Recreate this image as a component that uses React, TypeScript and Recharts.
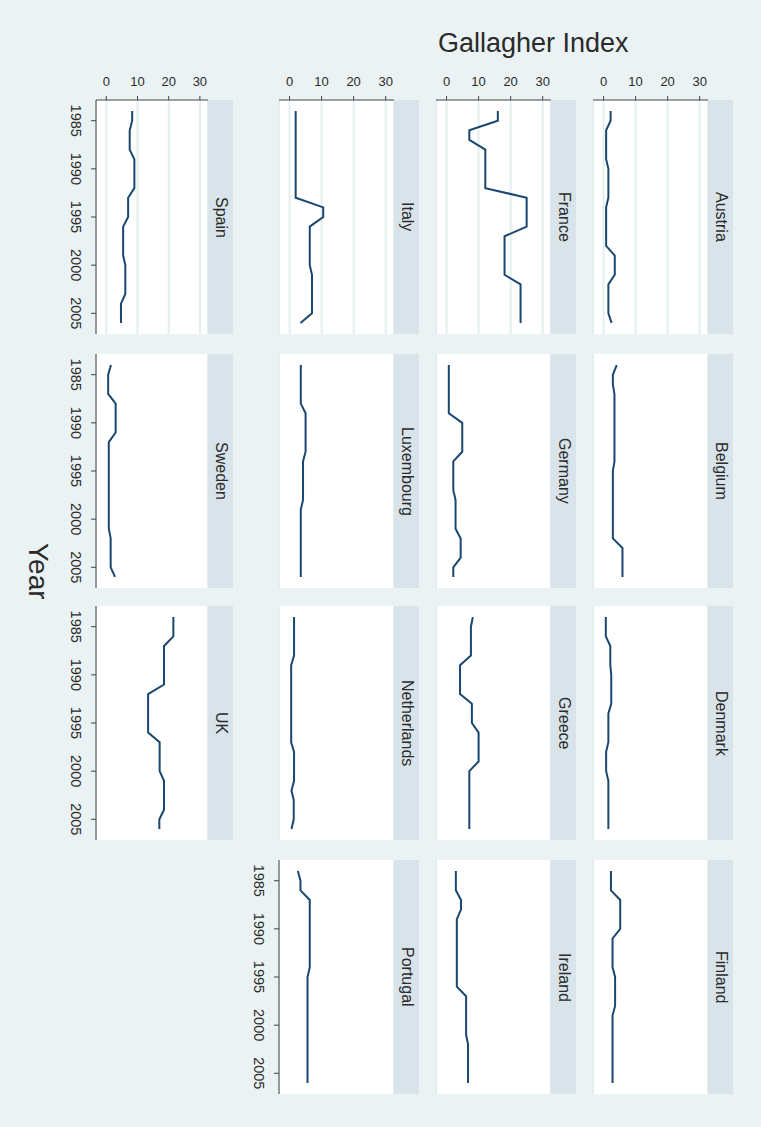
import React from 'react'
import { LineChart, Line, XAxis, YAxis, CartesianGrid } from 'recharts'

// years on the (rotated) vertical axis
const years = [1984, 1985, 1986, 1987, 1988, 1989, 1990, 1991, 1992, 1993, 1994, 1995, 1996, 1997, 1998, 1999, 2000, 2001, 2002, 2003, 2004, 2005, 2006]
const yearTicks = [1985, 1990, 1995, 2000, 2005]
const valueTicks = [0, 10, 20, 30]

// Gallagher index per country, 1984..2006
const austria = [2.2, 2.2, 0.8, 0.8, 0.8, 0.8, 1.5, 1.5, 1.5, 1.5, 0.8, 0.8, 0.8, 0.8, 0.8, 3.5, 3.5, 3.5, 1.5, 1.5, 1.5, 1.5, 2.5]
const belgium = [4.1, 2.9, 2.9, 3.4, 3.4, 3.4, 3.4, 3.4, 3.4, 3.4, 3.4, 2.9, 2.9, 2.9, 2.9, 2.9, 2.9, 2.9, 2.9, 5.9, 5.9, 5.9, 5.9]
const denmark = [0.7, 0.7, 0.7, 2.1, 2.1, 2.1, 2.4, 2.4, 2.4, 2.4, 1.5, 1.5, 1.5, 1.5, 0.8, 0.8, 0.8, 1.5, 1.5, 1.5, 1.5, 1.5, 1.5]
const finland = [2.3, 2.3, 2.3, 5.2, 5.2, 5.2, 5.2, 2.8, 2.8, 2.8, 2.8, 3.6, 3.6, 3.6, 3.6, 2.8, 2.8, 2.8, 2.8, 2.8, 2.8, 2.8, 2.8]
const france = [16, 16, 7.1, 7.1, 12.1, 12.1, 12.1, 12.1, 12.1, 25, 25, 25, 25, 18.1, 18.1, 18.1, 18.1, 18.1, 23.1, 23.1, 23.1, 23.1, 23.1]
const germany = [0.7, 0.7, 0.7, 0.7, 0.7, 0.7, 4.9, 4.9, 4.9, 4.9, 2.1, 2.1, 2.1, 2.1, 2.8, 2.8, 2.8, 2.8, 4.4, 4.4, 4.4, 2.1, 2.1]
const greece = [8.2, 7.6, 7.6, 7.6, 7.6, 4.2, 4.2, 4.2, 4.2, 7.9, 7.9, 7.9, 10, 10, 10, 10, 7.1, 7.1, 7.1, 7.1, 7.1, 7.1, 7.1]
const ireland = [2.9, 2.9, 2.9, 4.5, 4.5, 3.2, 3.2, 3.2, 3.2, 3.2, 3.2, 3.2, 3.2, 6.1, 6.1, 6.1, 6.1, 6.1, 6.7, 6.7, 6.7, 6.7, 6.7]
const italy = [1.9, 1.9, 1.9, 1.9, 1.9, 1.9, 1.9, 1.9, 1.9, 1.9, 10.5, 10.5, 6.3, 6.3, 6.3, 6.3, 6.3, 7.0, 7.0, 7.0, 7.0, 7.0, 3.4]
const luxembourg = [3.5, 3.5, 3.5, 3.5, 3.5, 5.0, 5.0, 5.0, 5.0, 5.0, 4.2, 4.2, 4.2, 4.2, 4.2, 3.5, 3.5, 3.5, 3.5, 3.5, 3.5, 3.5, 3.5]
const netherlands = [1.4, 1.4, 1.4, 1.4, 1.4, 0.5, 0.5, 0.5, 0.5, 0.5, 0.5, 0.5, 0.5, 0.5, 1.4, 1.4, 1.4, 1.4, 0.6, 1.3, 1.3, 1.3, 0.6]
const portugal = [2.6, 3.4, 3.4, 6.3, 6.3, 6.3, 6.3, 6.3, 6.3, 6.3, 6.3, 5.6, 5.6, 5.6, 5.6, 5.6, 5.6, 5.6, 5.6, 5.6, 5.6, 5.6, 5.6]
const spain = [8.3, 8.3, 7.5, 7.5, 7.5, 9.0, 9.0, 9.0, 9.0, 7.0, 7.0, 7.0, 5.4, 5.4, 5.4, 5.4, 6.1, 6.1, 6.1, 6.1, 4.7, 4.7, 4.7]
const sweden = [1.5, 0.6, 0.6, 0.6, 3.0, 3.0, 3.0, 3.0, 0.8, 0.8, 0.8, 0.8, 0.8, 0.8, 0.8, 0.8, 0.8, 0.8, 1.4, 1.4, 1.4, 1.4, 2.8]
const uk = [21.5, 21.5, 21.5, 18.5, 18.5, 18.5, 18.5, 18.5, 13.4, 13.4, 13.4, 13.4, 13.4, 17.1, 17.1, 17.1, 17.1, 18.5, 18.5, 18.5, 18.5, 17.0, 17.0]

// panel order: column by column (picture is the Stata graph turned a quarter)
const panels = [
  { name: 'Austria', values: austria, col: 0, row: 0 },
  { name: 'Belgium', values: belgium, col: 0, row: 1 },
  { name: 'Denmark', values: denmark, col: 0, row: 2 },
  { name: 'Finland', values: finland, col: 0, row: 3 },
  { name: 'France', values: france, col: 1, row: 0 },
  { name: 'Germany', values: germany, col: 1, row: 1 },
  { name: 'Greece', values: greece, col: 1, row: 2 },
  { name: 'Ireland', values: ireland, col: 1, row: 3 },
  { name: 'Italy', values: italy, col: 2, row: 0 },
  { name: 'Luxembourg', values: luxembourg, col: 2, row: 1 },
  { name: 'Netherlands', values: netherlands, col: 2, row: 2 },
  { name: 'Portugal', values: portugal, col: 2, row: 3 },
  { name: 'Spain', values: spain, col: 3, row: 0 },
  { name: 'Sweden', values: sweden, col: 3, row: 1 },
  { name: 'UK', values: uk, col: 3, row: 2 },
]

const colLeft = [593, 436, 279, 96]
const colWidth = [115, 115, 115, 112]
const rowTop = [100, 354, 606, 860]
const plotH = 234
const stripW = 25
const padL = 40
const padT = 30

const font = '"Liberation Sans", Arial, sans-serif'
const ink = '#2b2b2b'
const navy = '#1a476f'

const ValueTick = (props: any) => {
  const { x, y, payload } = props
  return (
    <text x={x} y={y - 13} textAnchor="middle" dominantBaseline="central" fontSize={13} fill={ink} fontFamily={font}>
      {payload.value}
    </text>
  )
}

const YearTick = (props: any) => {
  const { x, y, payload } = props
  const cx = x - 13
  return (
    <text x={cx} y={y} transform={`rotate(90, ${cx}, ${y})`} textAnchor="middle" dominantBaseline="central" fontSize={14.5} fill={ink} fontFamily={font}>
      {payload.value}
    </text>
  )
}

function Panel({ name, values, col, row }: { name: string; values: number[]; col: number; row: number }) {
  const data = years.map((year, i) => ({ year, v: values[i] }))
  const showTop = row === 0
  const showLeft = col === 3 || name === 'Portugal'
  const left = colLeft[col]
  const plotW = colWidth[col]
  const top = rowTop[row]
  return (
    <>
      <div style={{ position: 'absolute', left: left - padL, top: top - padT }}>
        <LineChart width={plotW + padL} height={plotH + padT} data={data} layout="vertical" margin={{ top: 0, right: 0, bottom: 0, left: 0 }}>
          <CartesianGrid horizontal={false} fill="#ffffff" fillOpacity={1} stroke="#e4edf0" strokeWidth={2} />
          <XAxis
            type="number"
            orientation="top"
            domain={[-3.3, 32.6]}
            ticks={valueTicks}
            allowDataOverflow
            height={padT}
            tickSize={4}
            axisLine={showTop ? { stroke: '#444' } : false}
            tickLine={showTop ? { stroke: '#444' } : false}
            tick={showTop ? <ValueTick /> : false}
          />
          <YAxis
            type="number"
            dataKey="year"
            domain={[1982.85, 2007.15]}
            ticks={yearTicks}
            allowDataOverflow
            width={padL}
            tickSize={5}
            axisLine={showLeft ? { stroke: '#444' } : false}
            tickLine={showLeft ? { stroke: '#444' } : false}
            tick={showLeft ? <YearTick /> : false}
          />
          <Line dataKey="v" stroke={navy} strokeWidth={2} dot={false} isAnimationActive={false} />
        </LineChart>
      </div>
      <div
        style={{
          position: 'absolute',
          left: left + plotW,
          top,
          width: stripW,
          height: plotH,
          background: '#d9e4ea',
          display: 'flex',
          alignItems: 'center',
          justifyContent: 'center',
        }}
      >
        <span style={{ writingMode: 'vertical-rl', fontFamily: font, fontSize: 16, color: ink }}>{name}</span>
      </div>
    </>
  )
}

export default function App() {
  return (
    <div style={{ position: 'absolute', left: 0, top: 0, width: 761, height: 1127, background: '#eaf2f3', overflow: 'hidden' }}>
      <div style={{ position: 'absolute', left: 438, top: 28, fontFamily: font, fontSize: 27, color: ink }}>Gallagher Index</div>
      <div style={{ position: 'absolute', left: 22, top: 543, writingMode: 'vertical-rl', fontFamily: font, fontSize: 28, color: ink }}>Year</div>
      {panels.map((p) => (
        <Panel key={p.name} {...p} />
      ))}
    </div>
  )
}
